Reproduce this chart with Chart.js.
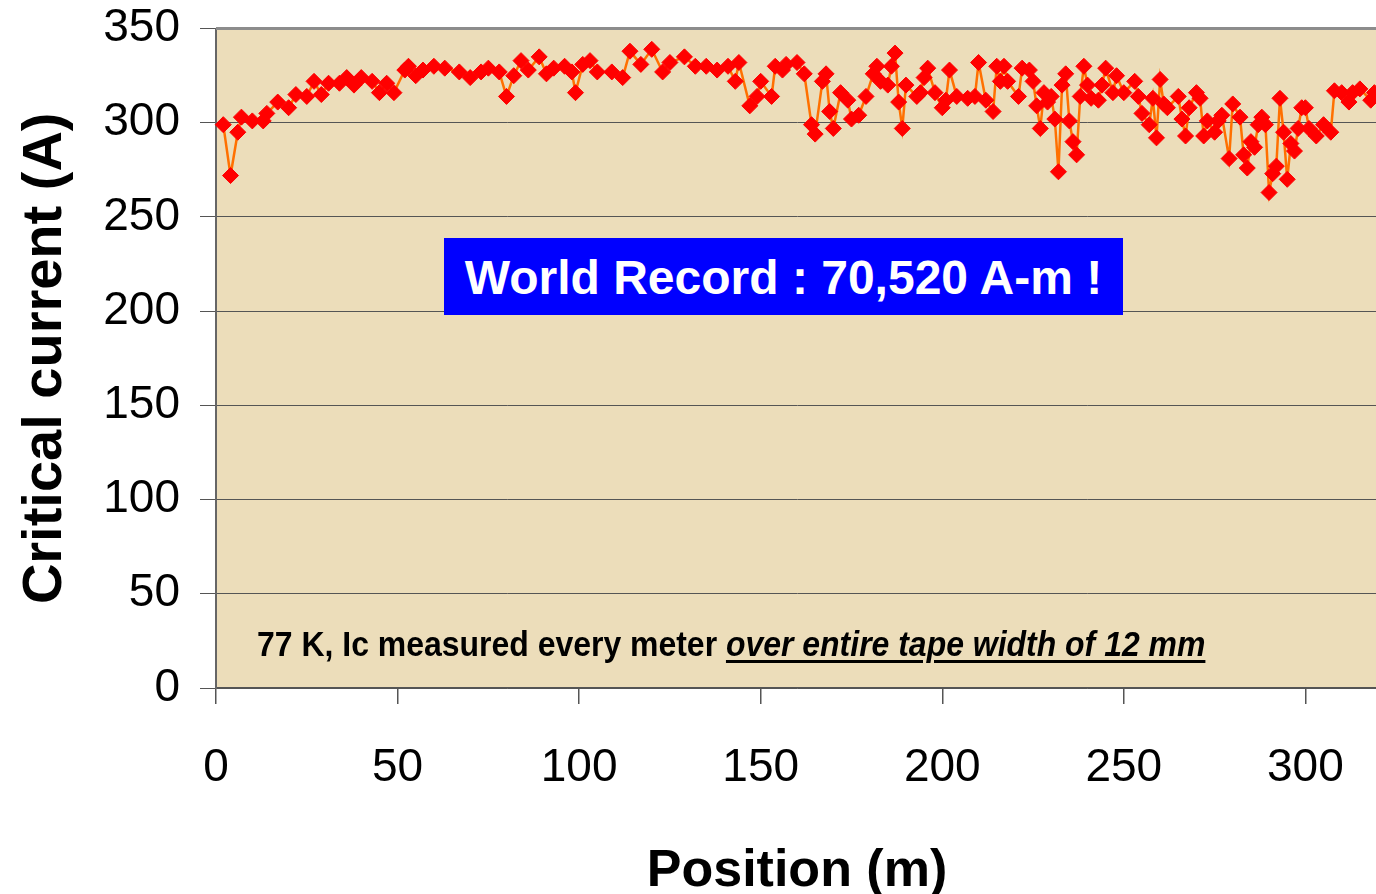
<!DOCTYPE html>
<html>
<head>
<meta charset="utf-8">
<script src="https://cdn.jsdelivr.net/npm/chart.js@4.4.1/dist/chart.umd.min.js"></script>
<style>
  html, body { margin: 0; padding: 0; background: #fff; }
  #wrap { position: relative; width: 1376px; height: 894px; overflow: hidden; }
  #myChart { position: absolute; left: 0; top: -19px; }
  #record {
    position: absolute; left: 444px; top: 238px; width: 679px; height: 77px;
    background: #0000ff; color: #fff; font: bold 48px "Liberation Sans", Arial, sans-serif;
    line-height: 79px; text-align: center; white-space: nowrap;
  }
  #note {
    position: absolute; left: 257px; top: 624px; white-space: nowrap;
    font: bold 35px "Liberation Sans", Arial, sans-serif;
    color: #000; transform: scaleX(0.913); transform-origin: left top;
  }
  #note i { text-decoration: underline; text-decoration-thickness: 3px; text-underline-offset: 4px; }
</style>
</head>
<body>
<div id="wrap">
  <canvas id="myChart" width="1387" height="913"></canvas>
  <div id="record">World Record : 70,520 A-m !</div>
  <div id="note">77 K, Ic measured every meter <i>over entire tape width of 12 mm</i></div>
</div>
<script>
// position along the tape (m) and critical current (A)
let positions = [2, 4, 6, 7, 10, 13, 14, 17, 20, 22, 25, 27, 29, 31, 34, 36, 38, 40, 43, 45, 47, 49, 52, 53,
  55, 57, 60, 63, 67, 70, 73, 75, 78, 80, 82, 84, 86, 89, 91, 93, 96, 98, 99, 101, 103, 105,
  109, 112, 114, 117, 120, 123, 125, 129, 132, 135, 138, 141, 143, 144, 147, 149, 150, 153, 154, 156,
  157, 160, 162, 164, 165, 167, 168, 169, 170, 172, 174, 175, 177, 179, 181, 182, 183, 185, 186, 187,
  188, 189, 190, 193, 194, 195, 196, 198, 200, 201, 202, 204, 207, 209, 210, 212, 214, 215, 216, 217,
  218, 221, 222, 224, 225, 226, 227, 228, 229, 230, 231, 232, 233, 234, 235, 236, 237, 238, 239, 240,
  241, 243, 244, 245, 247, 248, 250, 253, 254, 255, 257, 258, 259, 260, 261, 262, 265, 266, 267, 268,
  270, 271, 272, 273, 275, 276, 277, 279, 280, 282, 283, 284, 285, 286, 287, 288, 289, 290, 291, 292,
  293, 294, 295, 296, 297, 298, 299, 300, 301, 303, 305, 307, 308, 310, 312, 313, 315, 318, 319];
let currents = [299, 272, 295, 303, 301, 301, 305, 311, 308, 315, 314, 322, 315, 321, 321, 324, 320, 324, 322, 316, 321, 316, 328, 330,
  325, 328, 330, 329, 327, 324, 327, 329, 327, 314, 325, 333, 328, 335, 326, 329, 330, 327, 316, 331, 333, 327,
  327, 324, 338, 331, 339, 327, 332, 335, 330, 330, 328, 330, 322, 332, 309, 314, 322, 314, 330, 328,
  331, 332, 326, 299, 294, 322, 326, 306, 297, 316, 312, 302, 304, 314, 326, 330, 322, 320, 330, 337,
  311, 297, 320, 314, 316, 324, 329, 316, 308, 312, 328, 314, 313, 314, 332, 312, 306, 330, 322, 330,
  322, 314, 329, 328, 322, 309, 297, 316, 311, 314, 302, 274, 320, 326, 301, 290, 283, 314, 330, 320,
  313, 312, 320, 329, 316, 325, 316, 322, 314, 305, 299, 313, 292, 323, 310, 308, 314, 302, 293, 308,
  316, 313, 293, 301, 295, 301, 304, 281, 310, 303, 283, 276, 290, 287, 299, 303, 299, 263, 273, 277,
  313, 295, 270, 289, 285, 297, 308, 308, 297, 293, 299, 295, 317, 316, 311, 316, 318, 312, 316];
let yTicks = [0, 50, 100, 150, 200, 250, 300, 350];
let xTicks = [0, 50, 100, 150, 200, 250, 300];

let points = positions.map((p, i) => ({ x: p, y: currents[i] }));

// beige plot background + grey top edge
const plotBg = {
  id: 'plotBg',
  beforeDraw(chart) {
    const a = chart.chartArea, c = chart.ctx;
    c.save();
    c.fillStyle = '#ecddba';
    c.fillRect(a.left, a.top, a.right - a.left, a.bottom - a.top);
    c.restore();
  },
  afterDatasetsDraw(chart) {
    const a = chart.chartArea, c = chart.ctx;
    c.save();
    c.strokeStyle = '#8c8c8c';
    c.lineWidth = 3;
    c.beginPath();
    c.moveTo(a.left, a.top);
    c.lineTo(a.right, a.top);
    c.stroke();
    c.restore();
  }
};

let ctx = document.getElementById('myChart').getContext('2d');
let chart = new Chart(ctx, {
  type: 'line',
  data: {
    datasets: [{
      data: points,
      borderColor: '#ff7000',
      borderWidth: 2.5,
      pointStyle: 'rectRot',
      pointRadius: 8,
      pointBackgroundColor: '#ff0000',
      pointBorderColor: '#ff0000',
      pointBorderWidth: 1,
      tension: 0,
      clip: false
    }]
  },
  options: {
    responsive: false,
    animation: false,
    layout: { padding: 0 },
    plugins: { legend: { display: false }, tooltip: { enabled: false } },
    scales: {
      x: {
        type: 'linear',
        min: 0, max: 320,
        afterBuildTicks: s => { s.ticks = xTicks.map(v => ({ value: v })); },
        afterFit: s => { s.height = 206; },
        border: { display: true, color: '#555', width: 1.5 },
        grid: { drawOnChartArea: false, drawTicks: true, tickLength: 16, color: '#555', lineWidth: 1.5 },
        ticks: { color: '#000', padding: 37, maxRotation: 0, font: { family: 'Liberation Sans, Arial', size: 46 } },
        title: { display: true, text: 'Position (m)', color: '#000', padding: { top: 0, bottom: 0 },
          font: { family: 'Liberation Sans, Arial', size: 52, weight: 'bold', lineHeight: 0.85 } }
      },
      y: {
        min: 0, max: 350,
        afterBuildTicks: s => { s.ticks = yTicks.map(v => ({ value: v })); },
        afterFit: s => { s.width = 216; },
        border: { display: true, color: '#666', width: 2 },
        grid: { color: '#555', lineWidth: 1, tickLength: 16 },
        ticks: { color: '#000', padding: 20, font: { family: 'Liberation Sans, Arial', size: 46 } },
        title: { display: true, text: 'Critical current (A)', color: '#000', padding: { top: 12, bottom: 0 },
          font: { family: 'Liberation Sans, Arial', size: 56, weight: 'bold' } }
      }
    }
  },
  plugins: [plotBg]
});
</script>
</body>
</html>
